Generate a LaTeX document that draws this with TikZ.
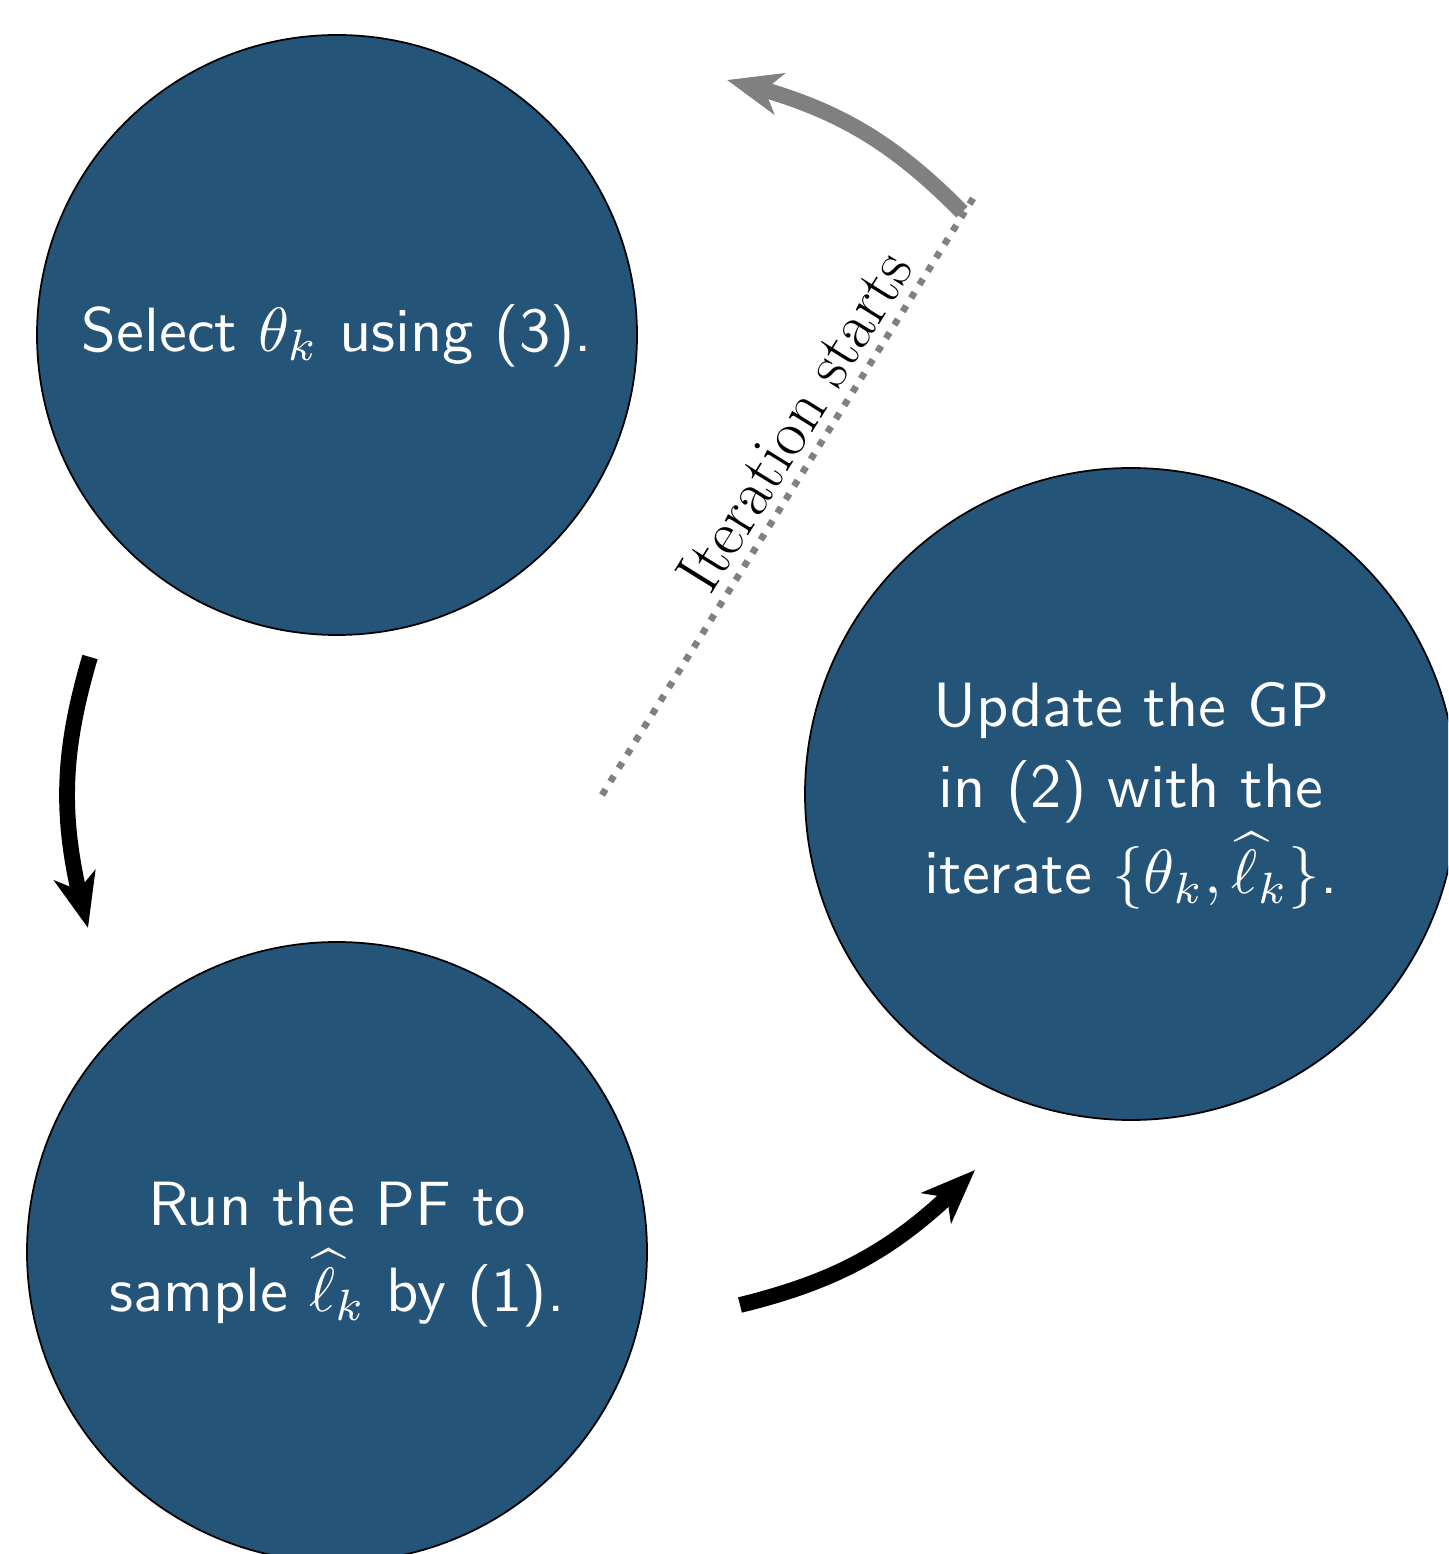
\documentclass[tikz,border=0pt]{standalone}
\usepackage{amsmath}
\usepackage{graphicx}
\usetikzlibrary{arrows.meta,bending}
\definecolor{nodeblue}{RGB}{37,84,121}
\definecolor{arrowgray}{RGB}{128,128,128}
\newcommand{\circletext}[1]{\scalebox{1.78}{\sffamily\fontsize{10}{13}\selectfont\begin{tabular}{@{}c@{}}#1\end{tabular}}}
\begin{document}
\begin{tikzpicture}[x=1cm,y=1cm,
  stepcircle/.style={circle, draw=black, line width=0.5pt, fill=nodeblue, text=white,
    inner sep=0pt, align=center, font=\sffamily\fontsize{10}{13}\selectfont},
  flowarrow/.style={line width=4.5pt, -{Stealth[length=0.54cm,width=0.42cm,inset=0.15cm]}, bend right=16},
  startline/.style={arrowgray, line width=1.9pt, dash pattern=on 1.9pt off 2.6pt},
  startlabel/.style={font=\rmfamily\fontsize{18.3}{20}\selectfont, inner sep=0.25em}
]
\path[clip] (0,0) rectangle (14.48,-15.54);
\node[stepcircle, minimum size=6.0cm] (select) at (3.37,-3.35) {\circletext{Select $\theta_k$ using (3).}};
\node[stepcircle, minimum size=6.2cm] (run) at (3.37,-12.52) {\circletext{Run the PF to\\sample $\widehat{\ell}_k$ by (1).}};
\node[stepcircle, minimum size=6.52cm] (update) at (11.31,-7.94) {\circletext{Update the GP\\in (2) with the\\iterate $\{\theta_k,\widehat{\ell}_k\}$.}};

\coordinate (a1s) at (0.90,-6.57);
\coordinate (a1e) at (0.88,-9.28);
\coordinate (a2s) at (7.40,-13.05);
\coordinate (a2e) at (9.75,-11.70);
\coordinate (g1s) at (9.62,-2.12);
\coordinate (g1e) at (7.27,-0.80);
\coordinate (ds) at (6.02,-7.95);
\coordinate (de) at (9.77,-1.92);

\draw[flowarrow] (a1s) to (a1e);
\draw[flowarrow] (a2s) to (a2e);
\draw[startline] (ds) -- node[pos=0.59, sloped, above, startlabel, text=black] {Iteration starts} (de);
\draw[flowarrow, arrowgray] (g1s) to (g1e);
\end{tikzpicture}
\end{document}
